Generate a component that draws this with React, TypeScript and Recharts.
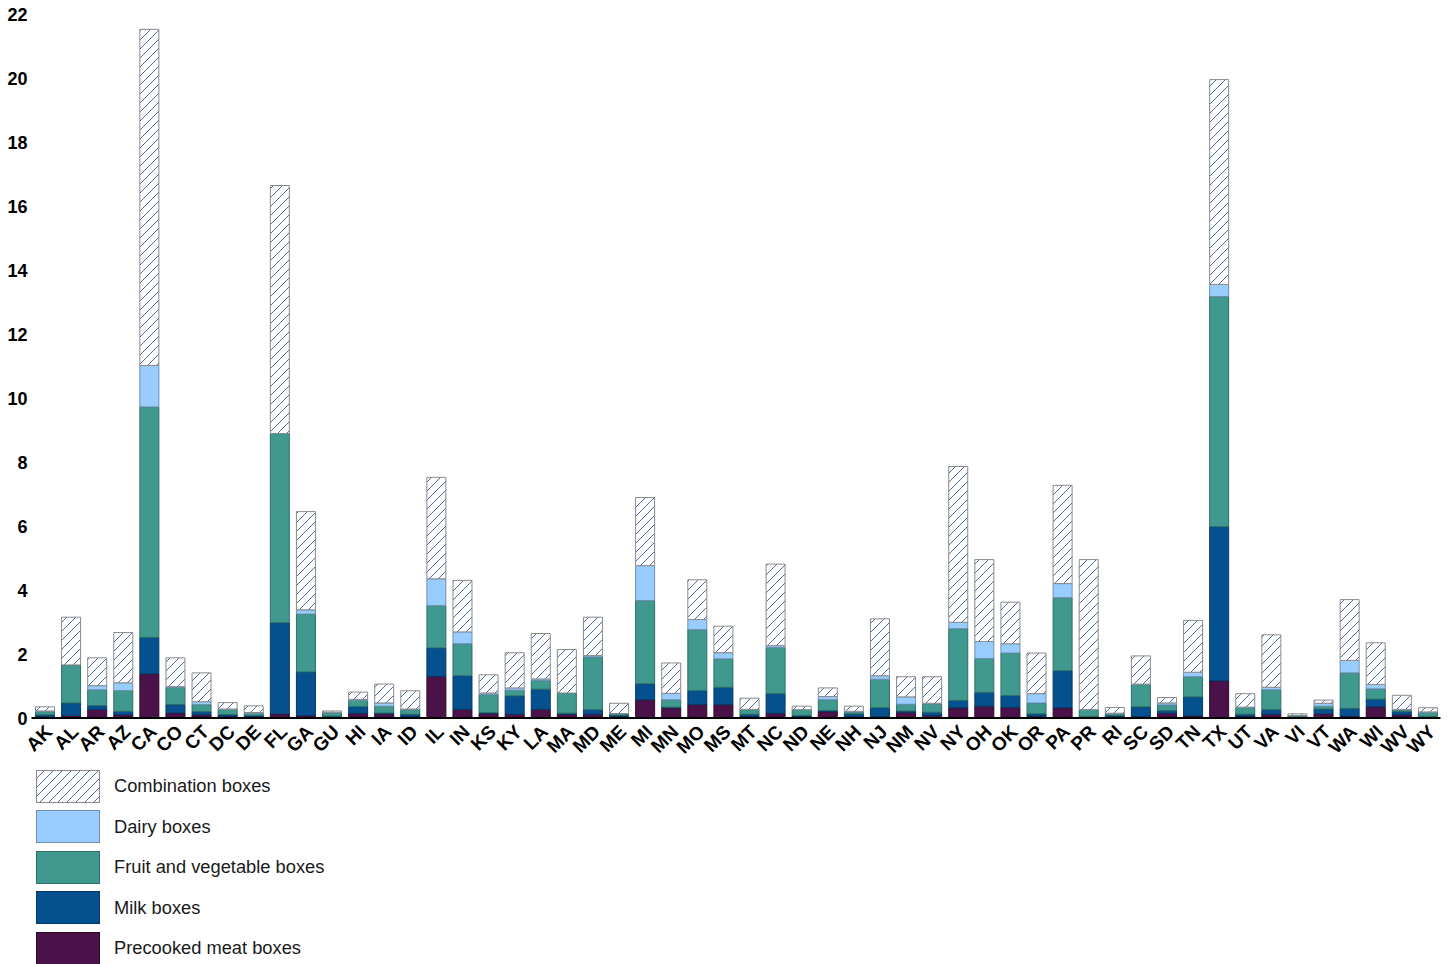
import React from "react";
import { Bar, BarChart, Legend, XAxis, YAxis } from "recharts";

document.body.style.margin = "0";

const states = [
  "AK", "AL", "AR", "AZ", "CA", "CO", "CT", "DC", "DE", "FL", "GA", "GU", "HI", "IA", "ID", "IL", "IN", "KS",
  "KY", "LA", "MA", "MD", "ME", "MI", "MN", "MO", "MS", "MT", "NC", "ND", "NE", "NH", "NJ", "NM", "NV", "NY",
  "OH", "OK", "OR", "PA", "PR", "RI", "SC", "SD", "TN", "TX", "UT", "VA", "VI", "VT", "WA", "WI", "WV", "WY",
];

const meat = [
  0.04, 0.08, 0.27, 0.1, 1.38, 0.16, 0.1, 0.06, 0.04, 0.13, 0.08, 0.03, 0.15, 0.13, 0.05, 1.3, 0.27, 0.14,
  0.12, 0.27, 0.12, 0.12, 0.05, 0.57, 0.32, 0.42, 0.42, 0.05, 0.15, 0.05, 0.2, 0.04, 0.05, 0.18, 0.08, 0.32,
  0.37, 0.33, 0.06, 0.32, 0.03, 0.04, 0.05, 0.15, 0.07, 1.16, 0.06, 0.12, 0.02, 0.13, 0.06, 0.35, 0.1, 0.02,
];

const milk = [
  0.06, 0.39, 0.12, 0.11, 1.14, 0.26, 0.1, 0.05, 0.04, 2.85, 1.36, 0.03, 0.21, 0.03, 0.07, 0.89, 1.05, 0.03,
  0.57, 0.63, 0.03, 0.14, 0.04, 0.5, 0.02, 0.44, 0.54, 0.07, 0.61, 0.03, 0.04, 0.09, 0.27, 0.04, 0.1, 0.23,
  0.43, 0.37, 0.07, 1.16, 0.02, 0.04, 0.3, 0.08, 0.59, 4.82, 0.06, 0.14, 0.03, 0.15, 0.24, 0.24, 0.1, 0.03,
];

const fruitVeg = [
  0.1, 1.19, 0.49, 0.65, 7.2, 0.54, 0.22, 0.16, 0.07, 5.91, 1.81, 0.1, 0.19, 0.21, 0.14, 1.32, 1.0, 0.56,
  0.18, 0.27, 0.63, 1.65, 0.05, 2.6, 0.23, 1.9, 0.89, 0.15, 1.44, 0.18, 0.33, 0.06, 0.89, 0.21, 0.26, 2.24,
  1.06, 1.33, 0.34, 2.28, 0.21, 0.06, 0.69, 0.18, 0.63, 7.19, 0.2, 0.62, 0.02, 0.09, 1.11, 0.32, 0.05, 0.12,
];

const dairy = [
  0.02, 0, 0.13, 0.24, 1.3, 0.02, 0.09, 0.01, 0.02, 0, 0.13, 0.02, 0.03, 0.1, 0.02, 0.84, 0.37, 0.05,
  0.07, 0.05, 0, 0.04, 0, 1.09, 0.2, 0.32, 0.19, 0, 0.06, 0, 0.1, 0.02, 0.11, 0.23, 0.02, 0.2,
  0.53, 0.29, 0.29, 0.44, 0, 0.01, 0.02, 0.06, 0.14, 0.38, 0.02, 0.08, 0.01, 0.09, 0.39, 0.14, 0.02, 0.02,
];

const combination = [
  0.13, 1.49, 0.87, 1.57, 10.5, 0.9, 0.9, 0.2, 0.21, 7.75, 3.07, 0.04, 0.23, 0.59, 0.57, 3.17, 1.61, 0.57,
  1.1, 1.42, 1.36, 1.2, 0.32, 2.13, 0.95, 1.24, 0.83, 0.35, 2.55, 0.11, 0.27, 0.16, 1.78, 0.63, 0.83, 4.87,
  2.56, 1.3, 1.27, 3.07, 4.69, 0.18, 0.88, 0.17, 1.62, 6.4, 0.42, 1.64, 0.05, 0.1, 1.9, 1.3, 0.44, 0.13,
];

const yTicks = [0, 2, 4, 6, 8, 10, 12, 14, 16, 18, 20, 22];

const data = states.map((state, i) => ({
  state,
  meat: meat[i],
  milk: milk[i],
  fruitVeg: fruitVeg[i],
  dairy: dairy[i],
  combination: combination[i],
}));

const legendItems = [
  { label: "Combination boxes", fill: "url(#hatch)", stroke: "#8a8a8a" },
  { label: "Dairy boxes", fill: "#99ccff", stroke: "#6f8fb0" },
  { label: "Fruit and vegetable boxes", fill: "#40998f", stroke: "#2f6f68" },
  { label: "Milk boxes", fill: "#05508f", stroke: "#063a66" },
  { label: "Precooked meat boxes", fill: "#4a1248", stroke: "#2b0a29" },
];

const font = "'Liberation Sans', Arial, sans-serif";

const YTick = ({ x, y, payload }: any) => (
  <text x={x} y={y} dy={6.5} textAnchor="end" fontFamily={font} fontWeight="bold" fontSize={18} fill="#000">
    {payload.value}
  </text>
);

const XTick = ({ x, y, payload }: any) => (
  <text
    x={x + 9}
    y={y + 15}
    transform={`rotate(-45, ${x + 9}, ${y + 15})`}
    textAnchor="end"
    fontFamily={font}
    fontWeight="bold"
    fontSize={19}
    fill="#000"
  >
    {payload.value}
  </text>
);

const LegendBox = () => (
  <div style={{ height: 198, boxSizing: "border-box", paddingTop: 0, paddingLeft: 36, fontFamily: font }}>
    {legendItems.map((item) => (
      <div key={item.label} style={{ display: "flex", alignItems: "center", height: 40.5 }}>
        <svg width={64} height={33} style={{ display: "block" }}>
          <rect x={0.5} y={0.5} width={63} height={32} fill={item.fill} stroke={item.stroke} />
        </svg>
        <span style={{ marginLeft: 14, fontSize: 18.3, color: "#1a1a1a" }}>{item.label}</span>
      </div>
    ))}
  </div>
);

export default function App() {
  return (
    <BarChart width={1452} height={964} data={data} margin={{ top: 14, right: 11.5, left: 0, bottom: 0 }}>
      <defs>
        <pattern id="hatch" patternUnits="userSpaceOnUse" width={9} height={9}>
          <rect width={9} height={9} fill="#fff" />
          <path d="M0,9 L9,0 M-2,2 L2,-2 M7,11 L11,7" stroke="#4a6aa8" strokeWidth={1} />
        </pattern>
      </defs>
      <XAxis
        dataKey="state"
        interval={0}
        height={48}
        tickSize={0}
        tickMargin={0}
        tickLine={false}
        axisLine={{ stroke: "#000", strokeWidth: 2 }}
        tick={<XTick />}
      />
      <YAxis
        width={31.5}
        domain={[0, 22]}
        ticks={yTicks}
        interval={0}
        tickSize={0}
        tickMargin={4}
        tickLine={false}
        axisLine={false}
        tick={<YTick />}
      />
      <Legend verticalAlign="bottom" align="left" content={<LegendBox />} />
      <Bar dataKey="meat" stackId="a" barSize={19} fill="#4a1248" stroke="#2b0a29" isAnimationActive={false} />
      <Bar dataKey="milk" stackId="a" barSize={19} fill="#05508f" stroke="#063a66" isAnimationActive={false} />
      <Bar dataKey="fruitVeg" stackId="a" barSize={19} fill="#40998f" stroke="#2f6f68" isAnimationActive={false} />
      <Bar dataKey="dairy" stackId="a" barSize={19} fill="#99ccff" stroke="#6f8fb0" isAnimationActive={false} />
      <Bar dataKey="combination" stackId="a" barSize={19} fill="url(#hatch)" stroke="#8a8a8a" isAnimationActive={false} />
    </BarChart>
  );
}
